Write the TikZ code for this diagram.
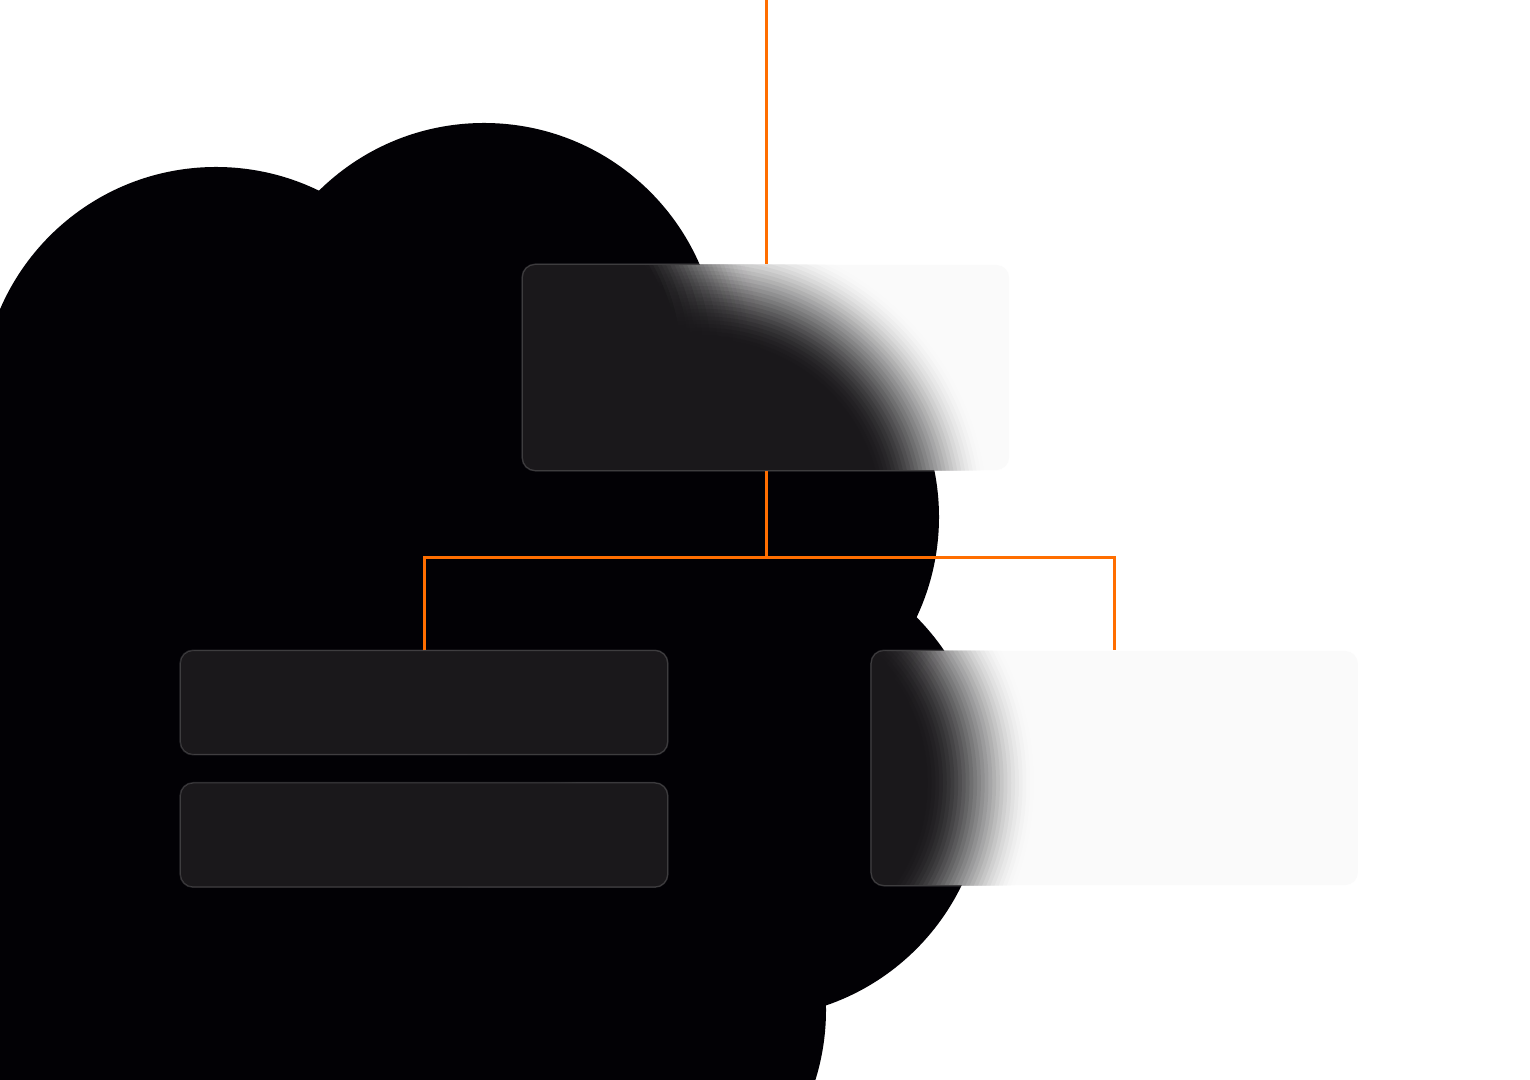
\documentclass[tikz,border=0pt]{standalone}
\usetikzlibrary{positioning}

\definecolor{blobblack}{RGB}{2,1,5}
\definecolor{panelblack}{RGB}{26,24,27}
\definecolor{panelwhite}{HTML}{FAFAFA}
\definecolor{wireorange}{HTML}{FF6E00}

% centres of the circles that make up the dark cloud
\def\blobcentres{216/402,484/358,704/517,750/783,591/1010}
\newcommand{\blobcore}[1]{%
  \fill[#1] (-10,402) -- (216,402) -- (484,358) -- (704,517) -- (750,783)
    -- (591,1010) -- (591,1090) -- (-10,1090) -- cycle;}

\tikzset{
  panel/.style={rectangle, rounded corners=0.13cm, minimum width=4.86cm,
    inner sep=0pt, fill=panelwhite},
  rim/.style={draw=white, draw opacity=0.16, line width=0.015cm,
    rounded corners=0.13cm},
  wire/.style={draw=wireorange, line width=0.03cm},
}

\begin{document}
\begin{tikzpicture}[x=0.01cm, y=-0.01cm, node distance=0.28cm]
  \clip (0,0) rectangle (1530,1080);
  \fill[white] (0,0) rectangle (1530,1080);
  % cloud
  \blobcore{blobblack}
  \foreach \cx/\cy in \blobcentres {\fill[blobblack] (\cx,\cy) circle[radius=235];}

  \node[panel, minimum height=2.05cm] (top) at (766,367.5) {};
  \node[panel, minimum height=1.03cm] (left1) at (424,702.5) {};
  \node[panel, minimum height=1.03cm, below=of left1] (left2) {};
  \node[panel, minimum height=2.34cm, right=2.03cm of left1.north east, anchor=north west] (right) {};

  % frosted look: blurred cloud inside each panel (smoothstep ramp)
  \foreach \n in {top,left1,left2,right} {
    \begin{scope}
      \clip[rounded corners=0.13cm] (\n.south west) rectangle (\n.north east);
      \blobcore{panelblack}
      \foreach \cx/\cy in \blobcentres {
        \foreach \k [evaluate=\k as \op using
            {1-(1-(3*(\k/30)^2-2*(\k/30)^3))/(1-(3*((\k-1)/30)^2-2*((\k-1)/30)^3))},
                     evaluate=\k as \rad using {284-(\k-1)*110/29}] in {1,...,30}
          \fill[panelblack, fill opacity=\op] (\cx,\cy) circle[radius=\rad];
      }
    \end{scope}
    \draw[rim] (\n.south west) rectangle (\n.north east);
  }

  \coordinate (feed) at (766,0);
  \coordinate (fork) at (766,558);
  \draw[wire] (feed) -- (top.north);
  \draw[wire] (top.south) -- (fork);
  \draw[wire] (left1.north) |- (fork) -| (right.north);
\end{tikzpicture}
\end{document}
